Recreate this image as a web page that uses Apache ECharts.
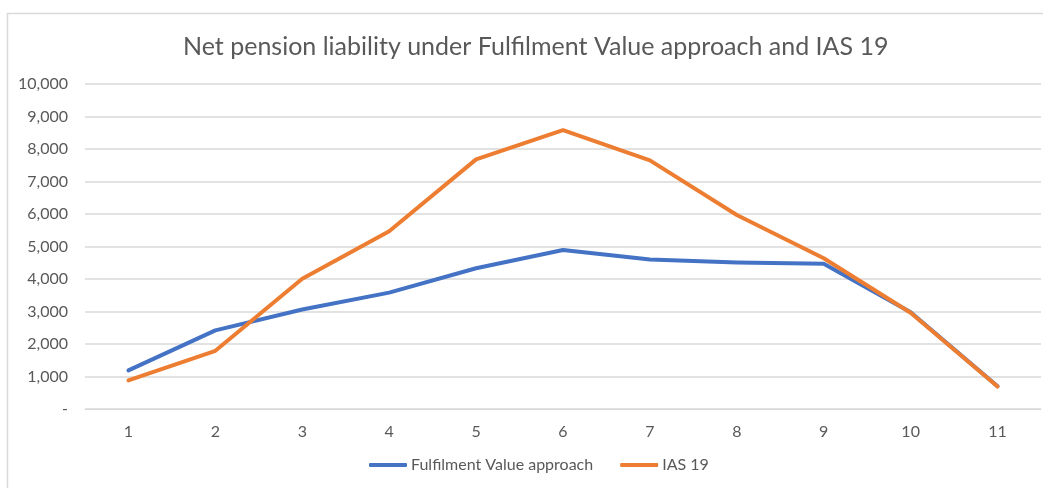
<!DOCTYPE html>
<html>
<head>
<meta charset="utf-8">
<script src="https://cdn.jsdelivr.net/npm/echarts@6/dist/echarts.min.js"></script>
<style>
html,body{margin:0;padding:0;background:#fff;}
#chart{width:1043px;height:488px;}
</style>
</head>
<body>
<div id="chart"></div>
<script>
// years 1..11
var categories = ['1','2','3','4','5','6','7','8','9','10','11'];
var fulfilmentValue = [1190, 2420, 3060, 3580, 4330, 4890, 4600, 4510, 4470, 2980, 700];
var ias19 = [880, 1790, 4010, 5470, 7680, 8580, 7650, 5970, 4640, 2960, 690];
var yTicks = [0, 10000, 1000]; // min, max, step

var myChart = echarts.init(document.getElementById('chart'));

var option = {
	animation: false,
	textStyle: { fontFamily: 'Lato' },
	title: {
		text: 'Net pension liability under Fulfilment Value approach and IAS 19',
		left: 178,
		top: 29,
		textStyle: { fontSize: 25, fontWeight: 'normal', color: '#595959', fontFamily: 'Lato' }
	},
	legend: {
		bottom: 10,
		left: 364,
		itemWidth: 38,
		itemHeight: 4,
		itemGap: 27,
		icon: 'roundRect',
		textStyle: { fontSize: 16, color: '#595959', padding: [0, 0, 0, -1] },
		data: ['Fulfilment Value approach', 'IAS 19']
	},
	grid: {
		left: 85,
		right: 2,
		top: 84,
		bottom: 79
	},
	xAxis: {
		type: 'category',
		data: categories,
		boundaryGap: true,
		axisLine: { lineStyle: { color: '#d9d9d9', width: 1 } },
		axisTick: { show: false },
		axisLabel: { color: '#595959', fontSize: 16, margin: 15 }
	},
	yAxis: {
		type: 'value',
		min: yTicks[0],
		max: yTicks[1],
		interval: yTicks[2],
		axisLine: { show: false },
		axisTick: { show: false },
		splitLine: { lineStyle: { color: '#d9d9d9', width: 1.5 } },
		axisLabel: {
			color: '#595959',
			fontSize: 16,
			margin: 17,
			formatter: function (v) {
				if (v === 0) { return '-'; }
				return v.toLocaleString('en-US');
			}
		}
	},
	graphic: [{
		type: 'rect',
		shape: { x: 7.5, y: 13.5, width: 1100, height: 600 },
		style: { fill: 'none', stroke: '#d9d9d9', lineWidth: 1.5 },
		z: -1
	}],
	series: [
		{
			name: 'Fulfilment Value approach',
			type: 'line',
			data: fulfilmentValue,
			symbol: 'none',
			itemStyle: { color: '#4472c4' },
			lineStyle: { color: '#4472c4', width: 4, cap: 'round', join: 'round' }
		},
		{
			name: 'IAS 19',
			type: 'line',
			data: ias19,
			symbol: 'none',
			itemStyle: { color: '#ed7d31' },
			lineStyle: { color: '#ed7d31', width: 4, cap: 'round', join: 'round' }
		}
	]
};

myChart.setOption(option);
</script>
</body>
</html>
